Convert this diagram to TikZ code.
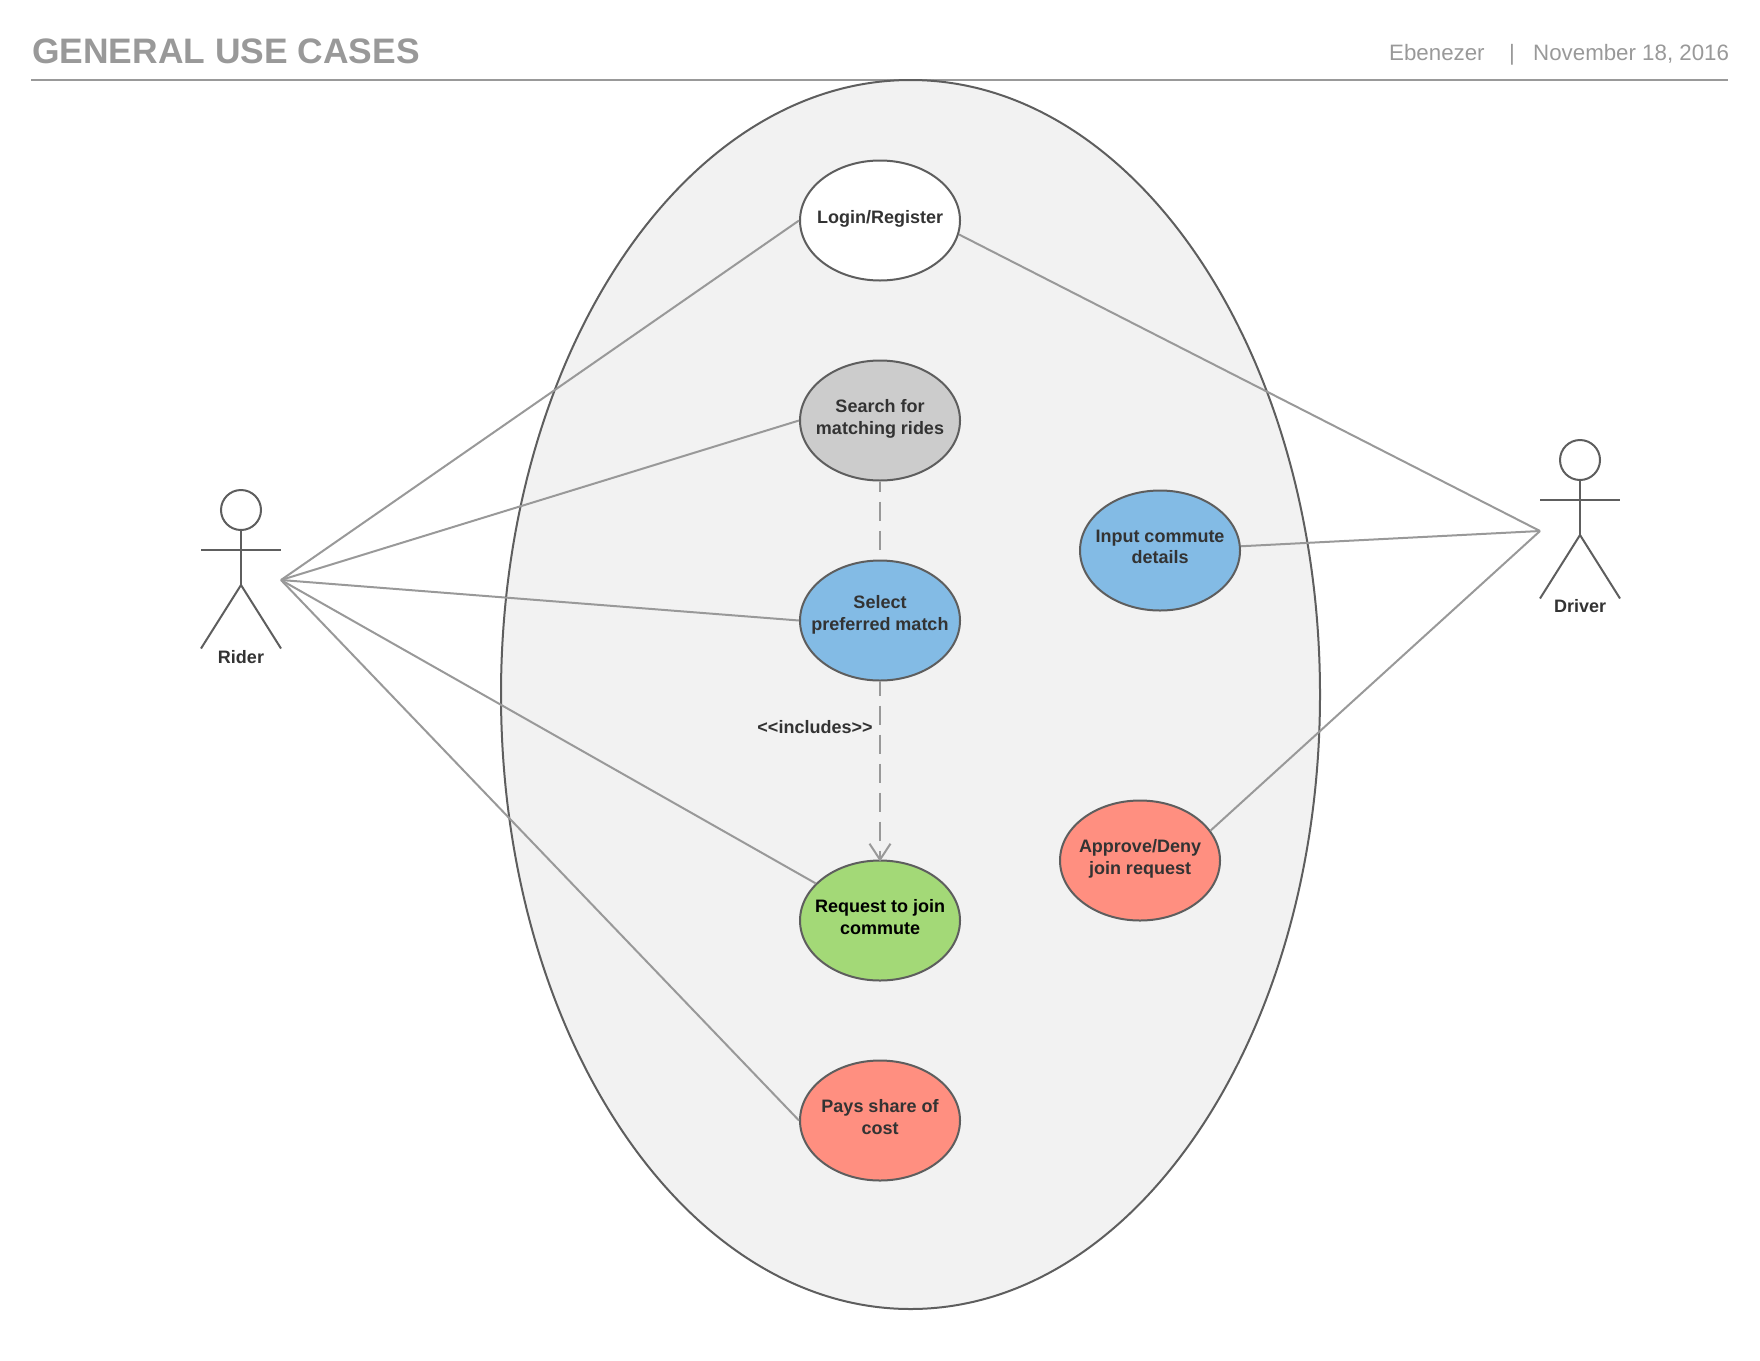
\documentclass[tikz,border=0pt]{standalone}
\usepackage{fontspec}
\setmainfont{Liberation Sans}
\usepackage{xcolor}
\usetikzlibrary{
    arrows.meta,
    shapes.geometric
}
\definecolor{bordergray}{RGB}{94,94,94}
\definecolor{linegray}{RGB}{153,153,153}
\definecolor{textdark}{RGB}{51,51,51}
\definecolor{systemfill}{RGB}{242,242,242}
\definecolor{caseblue}{RGB}{131,187,229}
\definecolor{casegreen}{RGB}{163,217,119}
\definecolor{casered}{RGB}{255,143,128}
\definecolor{casegray}{RGB}{204,204,204}

\begin{document}
\begin{tikzpicture}[
    x=1pt, y=-1pt,
    usecase/.style={
        ellipse, draw=bordergray, line width=2pt, inner sep=-15pt,
        minimum width=160pt, minimum height=120pt,
        align=center, text=textdark,
        font=\fontsize{18}{21.3}\selectfont\bfseries
    },
    actorlabel/.style={inner sep=0pt, text=textdark, font=\fontsize{18}{21.3}\selectfont\bfseries},
    headtext/.style={inner sep=0pt, anchor=base west, text=linegray, font=\fontsize{22.3}{27}\selectfont},
    stick/.style={draw=bordergray, line width=2pt},
    link/.style={draw=linegray, line width=2pt},
    dashlink/.style={link, dash pattern=on 19pt off 10pt}
]
\useasboundingbox (0,0) rectangle (1760,1360);

% Header
\node[inner sep=0pt, anchor=base west, text=linegray, font=\fontsize{35.4}{42}\selectfont\bfseries] (title) at (32,63) {GENERAL USE CASES};
\node[headtext] (author) at (1389,60.5) {Ebenezer};
\node[headtext] (sep) at (1509,60.5) {|};
\node[headtext] (date) at (1533,60.5) {November 18, 2016};
\coordinate (ruleL) at (31,80);
\coordinate (ruleR) at (1728,80);
\draw[link] (ruleL) -- (ruleR);

% System boundary
\node[ellipse, draw=bordergray, fill=systemfill, line width=2pt, inner sep=0pt,
    minimum width=819pt, minimum height=1229pt] (system) at (910.5,694.5) {};

% Use cases
\node[usecase, fill=white, text depth=7pt] (login) at (880,220.5) {Login/Register};
\node[usecase, fill=casegray, text depth=7pt] (search) at (880,420.5) {Search for\\matching rides};
\node[usecase, fill=caseblue, text depth=15pt] (select) at (880,620.5) {Select\\preferred match};
\node[usecase, fill=casegreen, text=black, text depth=7pt] (request) at (880,920.5) {Request to join\\commute};
\node[usecase, fill=casered, text depth=7pt] (pays) at (880,1120.5) {Pays share of\\cost};
\node[usecase, fill=caseblue, text depth=7pt] (input) at (1160,550.5) {Input commute\\details};
\node[usecase, fill=casered, text depth=7pt] (approve) at (1140,860.5) {Approve/Deny\\join request};

% Rider
\node[circle, draw=bordergray, line width=2pt, inner sep=0pt, minimum size=40pt] (riderhead) at (241,510) {};
\coordinate (riderhip) at (241,585);
\coordinate (riderarmL) at (201,550);
\coordinate (riderarmR) at (281,550);
\coordinate (riderlegL) at (201,648.5);
\coordinate (riderlegR) at (281,648.5);
\coordinate (riderhand) at (281,580);
\draw[stick] (riderhead.south) -- (riderhip);
\draw[stick] (riderarmL) -- (riderarmR);
\draw[stick] (riderlegL) -- (riderhip) -- (riderlegR);
\node[actorlabel] (rider) at (241,657) {Rider};

% Driver
\node[circle, draw=bordergray, line width=2pt, inner sep=0pt, minimum size=40pt] (driverhead) at (1580,460) {};
\coordinate (driverhip) at (1580,535);
\coordinate (driverarmL) at (1540,500);
\coordinate (driverarmR) at (1620,500);
\coordinate (driverlegL) at (1540,598.5);
\coordinate (driverlegR) at (1620,598.5);
\coordinate (driverhand) at (1540,531);
\draw[stick] (driverhead.south) -- (driverhip);
\draw[stick] (driverarmL) -- (driverarmR);
\draw[stick] (driverlegL) -- (driverhip) -- (driverlegR);
\node[actorlabel] (driver) at (1580,606.5) {Driver};

% Rider links
\draw[link] (riderhand) -- (login.west);
\draw[link] (riderhand) -- (search.west);
\draw[link] (riderhand) -- (select.west);
\draw[link] (riderhand) -- (request.150.4);
\draw[link] (riderhand) -- (pays.west);

% Driver links
\draw[link] (driverhand) -- (login.-10.5);
\draw[link] (driverhand) -- (input.3);
\draw[link] (driverhand) -- (approve.23.5);

% Includes
\draw[dashlink, dash phase=9pt] (search.south) -- (select.north);
\draw[dashlink, dash phase=5pt, -{Straight Barb[length=16pt, width=21pt]}, shorten >=-2pt] (select.south) -- (request.north);
\node[actorlabel] (includes) at (815,727) {<{}<includes>{}>};

\end{tikzpicture}
\end{document}
